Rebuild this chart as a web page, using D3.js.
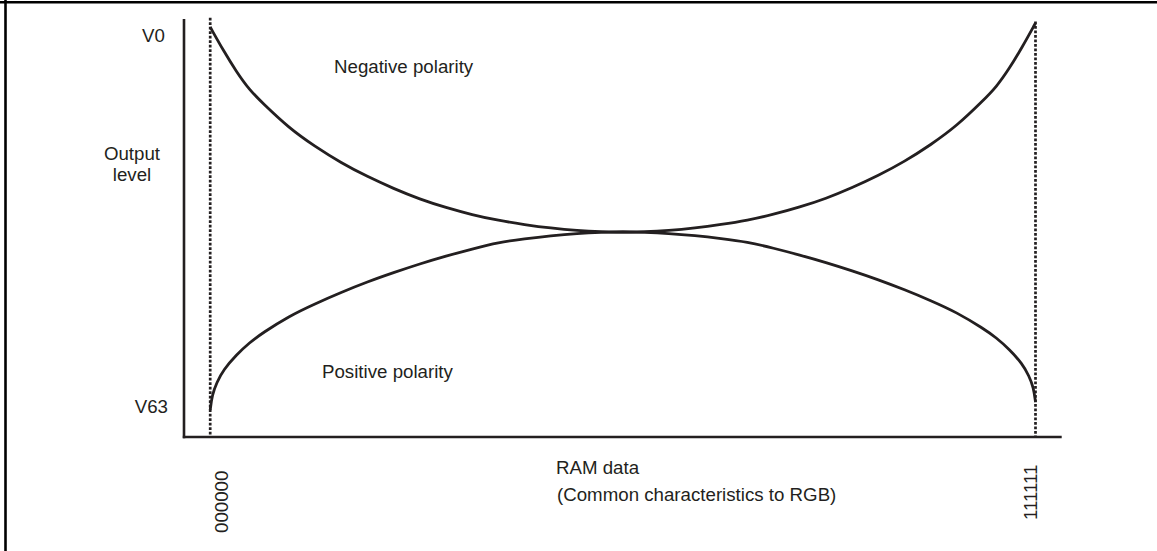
<!DOCTYPE html>
<html>
<head>
<meta charset="utf-8">
<script src="https://cdn.jsdelivr.net/npm/d3@7"></script>
<style>
  html, body { margin: 0; padding: 0; background: #fff; }
  svg text { font-family: "Liberation Sans", Arial, sans-serif; font-size: 18.7px; fill: #231f20; }
</style>
</head>
<body>
<svg id="chart" width="1157" height="551"></svg>
<script>
// Negative polarity: RAM data code (0 = 000000, 63 = 111111) and output level (0..100)
const negCodes = [0, 1, 2, 3, 4, 6, 8, 10, 12, 14, 16, 18, 20, 22, 24, 26, 28, 30, 31,
                  32, 33, 35, 37, 39, 41, 43, 45, 47, 49, 51, 53, 55, 57, 59, 60, 61, 62, 63];
const negLevels = [98.08, 92.49, 87.39, 83.02, 79.89, 73.95, 69.49, 65.57, 62.28, 59.44, 56.89, 54.88, 53.16, 51.79, 50.81, 49.97, 49.38, 49.09, 49.04,
                   49.04, 49.09, 49.39, 49.99, 50.84, 51.84, 53.24, 54.99, 57.04, 59.64, 62.54, 65.89, 69.89, 74.44, 80.49, 83.69, 88.14, 93.34, 99.04];

// Positive polarity
const posCodes = [0, 0.15, 0.5, 1, 2, 3, 4, 6, 8, 10, 12, 14, 16, 18, 20, 22, 24, 26, 28, 30, 31,
                  32, 33, 35, 37, 39, 41, 43, 45, 47, 49, 51, 53, 55, 57, 59, 60, 61, 62, 62.5, 62.85, 63];
const posLevels = [6.46, 10.12, 13.02, 16.04, 19.66, 22.60, 24.90, 28.90, 31.88, 34.61, 37.12, 39.33, 41.42, 43.29, 44.99, 46.57, 47.42, 48.15, 48.70, 48.98, 49.04,
                   49.04, 48.98, 48.71, 48.19, 47.49, 46.68, 45.18, 43.55, 41.76, 39.77, 37.65, 35.25, 32.65, 29.80, 25.98, 23.78, 20.98, 17.52, 14.63, 11.87, 8.37];

// x-axis tick labels at the first and last code
const xTickCodes = [0, 63];
const xTickLabels = ["000000", "111111"];

// y-axis labels and the level they sit at
const yTickLabels = ["V0", "V63"];
const yTickLevels = [94.5, 5.7];

const ink = "#231f20";
const svg = d3.select("#chart");

const x = d3.scaleLinear().domain([-2, 65]).range([184, 1061.7]);
const y = d3.scaleLinear().domain([0, 100]).range([437, 19]);

// frame edges
svg.append("line").attr("x1", 0).attr("x2", 1157).attr("y1", 2.2).attr("y2", 2.2)
  .attr("stroke", "#000").attr("stroke-width", 2.6);
svg.append("line").attr("x1", 5.5).attr("x2", 5.5).attr("y1", 0).attr("y2", 551)
  .attr("stroke", "#000").attr("stroke-width", 2.6);

// dotted guides at the first and last code
svg.selectAll("line.guide").data(xTickCodes).join("line")
  .attr("class", "guide")
  .attr("x1", d => x(d)).attr("x2", d => x(d))
  .attr("y1", (d, i) => i === 0 ? y(100.3) : y(99.4)).attr("y2", y(0))
  .attr("stroke", ink).attr("stroke-width", 2.7).attr("stroke-dasharray", "2.7,1.8");

// axes
svg.append("line").attr("x1", x(-2)).attr("x2", x(-2)).attr("y1", y(100)).attr("y2", y(0) + 1.2)
  .attr("stroke", ink).attr("stroke-width", 2.6);
svg.append("line").attr("x1", x(-2) - 1.2).attr("x2", x(65)).attr("y1", y(0)).attr("y2", y(0))
  .attr("stroke", ink).attr("stroke-width", 2.6);

// polarity curves, smoothed through the level samples
const line = d3.line().curve(d3.curveBasis);
svg.append("path")
  .attr("d", line(negCodes.map((c, i) => [x(c), y(negLevels[i])])))
  .attr("fill", "none").attr("stroke", ink).attr("stroke-width", 2.8);
svg.append("path")
  .attr("d", line(posCodes.map((c, i) => [x(c), y(posLevels[i])])))
  .attr("fill", "none").attr("stroke", ink).attr("stroke-width", 2.8);

// y labels
svg.append("text").attr("x", 142).attr("y", y(yTickLevels[0])).text(yTickLabels[0]);
svg.append("text").attr("x", 168).attr("y", y(yTickLevels[1])).attr("text-anchor", "end").text(yTickLabels[1]);
svg.append("text").attr("x", 132).attr("y", 160).attr("text-anchor", "middle").text("Output");
svg.append("text").attr("x", 132).attr("y", 181).attr("text-anchor", "middle").text("level");

// x tick labels, rotated
svg.append("text")
  .attr("transform", `translate(${x(xTickCodes[0]) + 17.5},533) rotate(-90)`)
  .text(xTickLabels[0]);
svg.append("text")
  .attr("transform", `translate(${x(xTickCodes[1]) + 1.5},520) rotate(-90)`)
  .text(xTickLabels[1]);

// x axis titles
svg.append("text").attr("x", 556).attr("y", 474).text("RAM data");
svg.append("text").attr("x", 557).attr("y", 501).text("(Common characteristics to RGB)");

// curve captions
svg.append("text").attr("x", 334).attr("y", 73).text("Negative polarity");
svg.append("text").attr("x", 322).attr("y", 378).text("Positive polarity");
</script>
</body>
</html>
